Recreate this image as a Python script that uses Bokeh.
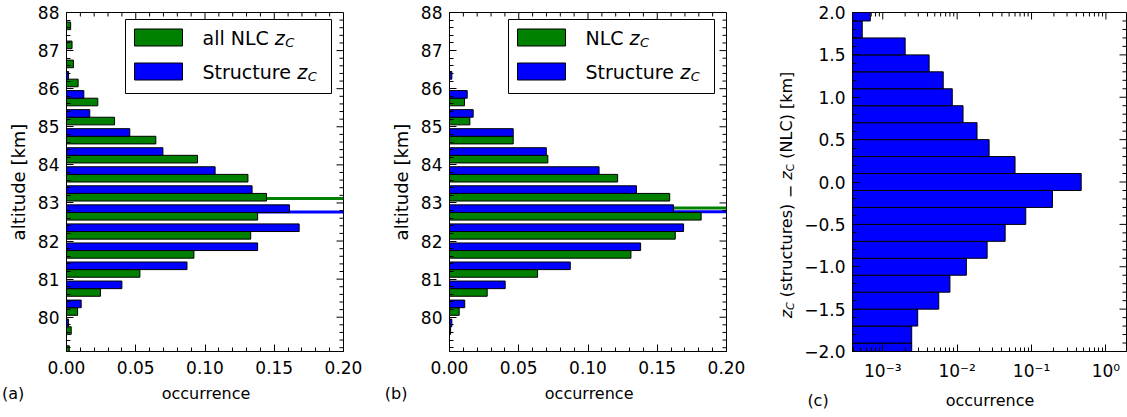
import math
from bokeh.plotting import figure
from bokeh.layouts import row
from bokeh.core.properties import value
from bokeh.models import (Range1d, SingleIntervalTicker, LogTicker, Span,
                          PrintfTickFormatter, CustomJSTickFormatter)
from bokeh.embed import file_html
from bokeh.resources import INLINE

# ---------------- data ----------------
alt_bins = [79.0, 79.5, 80.0, 80.5, 81.0, 81.5, 82.0, 82.5, 83.0,
            83.5, 84.0, 84.5, 85.0, 85.5, 86.0, 86.5, 87.0, 87.5]
a_nlc = [0.002, 0.0034, 0.008, 0.0245, 0.053, 0.092, 0.133, 0.138, 0.1444,
         0.131, 0.0946, 0.0645, 0.0347, 0.0226, 0.0084, 0.005, 0.004, 0.003]
a_struct = [0.0, 0.0015, 0.0106, 0.040, 0.087, 0.138, 0.168, 0.161, 0.134,
            0.1073, 0.0696, 0.0457, 0.0168, 0.0125, 0.0015, 0.0, 0.0, 0.0]
b_nlc = [0.0, 0.0008, 0.007, 0.0272, 0.0636, 0.131, 0.163, 0.1817, 0.159,
         0.1214, 0.071, 0.046, 0.0147, 0.0108, 0.0, 0.0, 0.0, 0.0]
b_struct = [0.0, 0.0017, 0.011, 0.0402, 0.0872, 0.138, 0.169, 0.1617, 0.135,
            0.108, 0.0699, 0.046, 0.0171, 0.0128, 0.0017, 0.0, 0.0, 0.0]
a_mean_nlc, a_mean_struct = 83.12, 82.76
b_mean_nlc, b_mean_struct = 82.87, 82.77

dz_bins = [-2.0, -1.8, -1.6, -1.4, -1.2, -1.0, -0.8, -0.6, -0.4, -0.2, 0.0,
           0.2, 0.4, 0.6, 0.8, 1.0, 1.2, 1.4, 1.6, 1.8, 2.0]
dz_occ = [0.00245, 0.00245, 0.00295, 0.00566, 0.0080, 0.0133, 0.0253, 0.0442,
          0.0836, 0.191, 0.465, 0.060, 0.0269, 0.0185, 0.012, 0.0086, 0.0065,
          0.0042, 0.0020, 0.00053, 0.00068]

GREEN = "#008000"
BLUE = "#0000ff"
FONT = "DejaVu Sans"
DESC = 0.582  # half text-box height (em) for DejaVu Sans
NB = "\u00a0"

ADV = {' ': .318, '(': .390, ')': .390, 's': .521, 't': .392, 'r': .411, 'u': .634,
       'c': .550, 'e': .615, '\u2212': .838, 'N': .748, 'L': .557, 'C': .698,
       '[': .390, ']': .390, 'k': .579, 'm': .974, 'z': .525, 'a': .613,
       'l': .278, 'S': .635, 'o': .612, 'n': .634, 'b': .635, NB: .318}


def tw(s, size):
    return sum(ADV.get(ch, 0.6) for ch in s) * size


def style_axis(ax, standoff):
    ax.major_tick_in = 7
    ax.major_tick_out = 0
    ax.minor_tick_in = 4
    ax.minor_tick_out = 0
    ax.axis_line_color = "black"
    ax.major_tick_line_color = "black"
    ax.minor_tick_line_color = "black"
    ax.major_label_text_font = FONT
    ax.major_label_text_font_size = "17px"
    ax.major_label_text_color = "black"
    ax.major_label_standoff = standoff
    ax.axis_label_text_font = FONT
    ax.axis_label_text_font_size = "16px"
    ax.axis_label_text_font_style = "normal"
    ax.axis_label_text_color = "black"
    ax.axis_label_standoff = 7


def base_fig(fw, fh, left, right, top, bottom, xr, yr, xtype="linear"):
    p = figure(frame_width=fw, frame_height=fh, min_border_left=left,
               min_border_right=right, min_border_top=top, min_border_bottom=bottom,
               x_range=xr, y_range=yr, x_axis_type=xtype,
               output_backend="svg", toolbar_location=None)
    p.title.visible = False
    p.xgrid.visible = False
    p.ygrid.visible = False
    p.outline_line_color = "black"
    p.outline_line_width = 1
    p.background_fill_color = "white"
    p.border_fill_color = "white"
    return p


def letter_label(letter, label, center, left_px):
    # panel letter + centred axis label on one line (non-breaking spaces as filler)
    lw = center + left_px - tw(label, 16) / 2
    k = max(1, round((lw - tw(letter, 16)) / tw(NB, 16)))
    m = round((tw(letter, 16) + k * tw(NB, 16)) / tw(NB, 16))
    return letter + NB * k + label + NB * m


def frame_ticks(p, xs_major, xs_minor, ys_major, ys_minor, ytop, xright,
                ylen_major, ylen_minor, xfac_major, xfac_minor):
    x0 = xs_major + xs_minor
    y0 = [ytop] * len(x0)
    y1 = [ytop - ylen_major] * len(xs_major) + [ytop - ylen_minor] * len(xs_minor)
    p.segment(x0=x0, y0=y0, x1=x0, y1=y1, line_color="black", line_width=1)
    yy = ys_major + ys_minor
    xa = [xright] * len(yy)
    xb = [xfac_major(xright)] * len(ys_major) + [xfac_minor(xright)] * len(ys_minor)
    p.segment(x0=xa, y0=yy, x1=xb, y1=yy, line_color="black", line_width=1)


FW, FH = 277, 339
X0, X1, Y0, Y1 = 0.0, 0.2, 79.1, 88.0
LEG_FS = 19


def dx(px):
    return X0 + px * (X1 - X0) / FW


def dyt(px):  # frame px measured from the top -> data y
    return Y1 - px * (Y1 - Y0) / FH


def alt_panel(nlc, struct, m_nlc, m_struct, nlc_label, letter, left_border, right_border):
    p = base_fig(FW, FH, left_border, right_border, 9, 65,
                 Range1d(X0, X1), Range1d(Y0, Y1))
    p.xaxis.ticker = SingleIntervalTicker(interval=0.05, num_minor_ticks=5)
    p.yaxis.ticker = SingleIntervalTicker(interval=1, num_minor_ticks=5)
    p.xaxis.formatter = PrintfTickFormatter(format="%.2f")
    p.xaxis.axis_label = letter_label(letter, "occurrence", FW / 2, left_border - 2)
    p.yaxis.axis_label = "altitude [km]"
    style_axis(p.xaxis[0], 9)
    style_axis(p.yaxis[0], 7)
    p.yaxis.axis_label_text_font_size = "18px"
    p.yaxis.axis_label_standoff = 6

    xm = [i * 0.05 for i in range(1, 4)]
    xn = [i * 0.01 for i in range(1, 20) if i % 5]
    ym = [float(v) for v in range(80, 88)]
    yn = [79.2 + 0.2 * i for i in range(44) if (i % 5) != 4]
    frame_ticks(p, xm, xn, ym, yn, Y1, X1, Y1 - dyt(7), Y1 - dyt(4),
                lambda x: x - dx(7), lambda x: x - dx(4))

    p.add_layout(Span(location=m_nlc, dimension="width", line_color=GREEN,
                      line_width=3, level="underlay"))
    p.add_layout(Span(location=m_struct, dimension="width", line_color=BLUE,
                      line_width=3, level="underlay"))

    y_g = [b + 0.15 for b in alt_bins]
    y_b = [b + 0.35 for b in alt_bins]
    p.hbar(y=y_g, left=0, right=nlc, height=0.2, fill_color=GREEN,
           line_color="black", line_width=1)
    p.hbar(y=y_b, left=0, right=struct, height=0.2, fill_color=BLUE,
           line_color="black", line_width=1)

    # legend box (frame px: left 59, right 265, top 7, bottom 81)
    p.quad(left=[dx(59)], right=[dx(265)], top=[dyt(7)], bottom=[dyt(81)],
           fill_color="white", line_color="black", line_width=1)
    rows = [25, 59]
    p.quad(left=[dx(68)] * 2, right=[dx(116)] * 2,
           top=[dyt(c - 8.5) for c in rows], bottom=[dyt(c + 8.5) for c in rows],
           fill_color=[GREEN, BLUE], line_color="black", line_width=1)
    labels = [nlc_label, "Structure"]
    p.text(x=[dx(136)] * 2, y=[dyt(c + DESC * LEG_FS) for c in rows], text=labels,
           text_font=value(FONT), text_font_size=f"{LEG_FS}px", text_color="black")
    zx = [dx(136 + tw(lab + " ", LEG_FS)) for lab in labels]
    p.text(x=zx, y=[dyt(c + DESC * LEG_FS) for c in rows], text=["z", "z"],
           text_font=value(FONT), text_font_style="italic",
           text_font_size=f"{LEG_FS}px", text_color="black")
    cx = [dx(136 + tw(lab + " ", LEG_FS) + tw("z", LEG_FS) + 0.5) for lab in labels]
    p.text(x=cx, y=[dyt(c + 5 + DESC * 13) for c in rows], text=["C", "C"],
           text_font=value(FONT), text_font_style="italic", text_font_size="13px",
           text_color="black")
    return p


pa = alt_panel(a_nlc, a_struct, a_mean_nlc, a_mean_struct, "all NLC", "(a)", 66, 40)
pb = alt_panel(b_nlc, b_struct, b_mean_nlc, b_mean_struct, "NLC", "(b)", 66, 43)

# ---------------- y-label strip of panel (c) ----------------
LW_, LH_ = 31, 417
lf = figure(frame_width=LW_, frame_height=LH_, min_border=0, x_range=Range1d(0, LW_),
            y_range=Range1d(0, LH_), x_axis_location=None, y_axis_location=None,
            output_backend="svg", toolbar_location=None)
lf.title.visible = False
lf.xgrid.visible = False
lf.ygrid.visible = False
lf.outline_line_color = None
lf.background_fill_color = "white"
lf.border_fill_color = "white"

pieces = [("z", 16, "italic", 0), ("C", 11, "italic", 4), (" ", 16, "normal", 0),
          ("(structures)", 16, "normal", 0), (" ", 16, "normal", 0),
          ("\u2212", 16, "normal", 0), (" ", 16, "normal", 0),
          ("z", 16, "italic", 0), ("C", 11, "normal", 4), (" ", 16, "normal", 0),
          ("(NLC)", 16, "normal", 0), (" ", 16, "normal", 0), ("[km]", 16, "normal", 0)]
total = sum(tw(t, s) for t, s, _, _ in pieces)
ypos = (LH_ - 182.5) - total / 2
for t, s, st, off in pieces:
    if t.strip():
        lf.text(x=[17 + off + DESC * s], y=[ypos], text=[t], text_font=value(FONT),
                text_font_size=f"{s}px", text_font_style=st, text_color="black",
                angle=math.pi / 2)
    ypos += tw(t, s)

# ---------------- panel (c) ----------------
CW, CH = 274, 339
CX0, CX1, CY0, CY1 = 3.92e-4, 1.89, -2.0, 2.0
pc = base_fig(CW, CH, 52, 1, 12, 65, Range1d(CX0, CX1), Range1d(CY0, CY1), "log")
pc.xaxis.ticker = LogTicker(num_minor_ticks=10)
pc.yaxis.ticker = SingleIntervalTicker(interval=0.5, num_minor_ticks=5)
pc.xaxis.formatter = CustomJSTickFormatter(code="""
const e = Math.round(Math.log10(tick));
const sup = {"-": "\\u207b", "0": "\\u2070", "1": "\\u00b9", "2": "\\u00b2", "3": "\\u00b3",
             "4": "\\u2074", "5": "\\u2075", "6": "\\u2076", "7": "\\u2077", "8": "\\u2078", "9": "\\u2079"};
return "10" + String(e).split("").map(c => sup[c]).join("");
""")
pc.yaxis.formatter = CustomJSTickFormatter(code="""
const v = Math.abs(tick) < 1e-9 ? 0 : tick;
return (v < 0 ? "\\u2212" : "") + Math.abs(v).toFixed(1);
""")
pc.xaxis.axis_label = letter_label("(c)", "occurrence", CW / 2, 44)
style_axis(pc.xaxis[0], 9)
style_axis(pc.yaxis[0], 7)


def cdy(px):
    return CY0 + px * (CY1 - CY0) / CH


dec = (math.log10(CX1) - math.log10(CX0)) / CW
cxm = [10.0 ** e for e in range(-3, 1)]
cxn = [k * 10.0 ** e for e in range(-4, 1) for k in range(2, 10)
       if CX0 < k * 10.0 ** e < CX1]
cym = [-1.5 + 0.5 * i for i in range(7)]
cyn = [-1.9 + 0.1 * i for i in range(39) if (i % 5) != 4]
frame_ticks(pc, cxm, cxn, cym, cyn, CY1, CX1, cdy(7) - CY0, cdy(4) - CY0,
            lambda x: x / 10 ** (7 * dec), lambda x: x / 10 ** (4 * dec))

pc.hbar(y=dz_bins, left=1e-5, right=dz_occ, height=0.2, fill_color=BLUE,
        line_color="black", line_width=1)

layout = row(pa, pb, lf, pc)
open("out.html", "w").write(file_html(layout, INLINE))
